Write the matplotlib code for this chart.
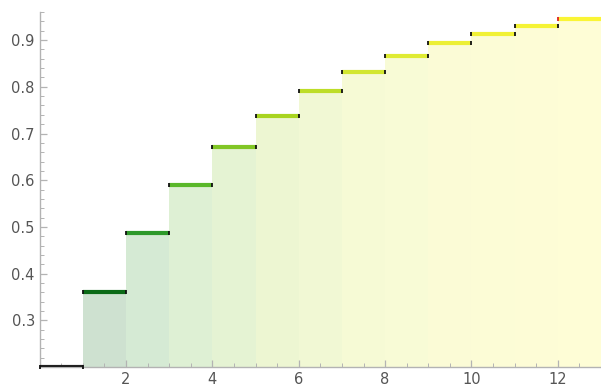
import numpy as np
import matplotlib.pyplot as plt
from matplotlib.colors import LinearSegmentedColormap
from matplotlib.ticker import MultipleLocator

# valores (degraus de x a x+1)
x = np.arange(0, 13)
valores = [0.200, 0.360, 0.488, 0.590, 0.672, 0.738, 0.790,
           0.832, 0.866, 0.893, 0.914, 0.931, 0.945]
base = 0.2

# cores: do preto ao verde escuro ate o amarelo
cmap = LinearSegmentedColormap.from_list(
    "degrau", [(0 / 12, "#202020"), (1 / 12, "#0b6b16"), (2 / 12, "#2e9a2a"),
               (3 / 12, "#5ab82a"), (5 / 12, "#a8d420"), (7 / 12, "#d2e630"),
               (9 / 12, "#ecef35"), (1.0, "#faf535")])
cores = [cmap(i / (len(x) - 1)) for i in range(len(x))]

fig = plt.figure(figsize=(6.01, 3.90), dpi=100)
ax = fig.add_axes([0.066, 0.059, 0.934, 0.910])

# preenchimento
ax.bar(x, np.array(valores) - base, bottom=base, width=1, align="edge",
       color=cores, alpha=0.2, linewidth=0, zorder=1)

# degraus
ax.hlines(valores, x, x + 1, colors=cores, linewidth=3, zorder=3)

# marcas nas pontas
ax.plot(x[:-1] + 1, valores[:-1], ls="none", marker="|", ms=3.5, mew=1.3,
        color="#111111", zorder=4, clip_on=False)
ax.plot(x[1:-1], valores[1:-1], ls="none", marker="|", ms=3.5, mew=1.3,
        color="#111111", zorder=4)
ax.plot([x[-1]], [valores[-1]], ls="none", marker="|", ms=3.5, mew=1.3,
        color="#e02020", zorder=4)
ax.plot([x[0]], [valores[0]], ls="none", marker="|", ms=3.5, mew=1.3,
        color="#111111", zorder=4, clip_on=False)

ax.set_xlim(0, 13)
ax.set_ylim(0.2, 0.96)

ax.xaxis.set_minor_locator(MultipleLocator(0.5))
ax.yaxis.set_minor_locator(MultipleLocator(0.02))

ax.set_xticks([2, 4, 6, 8, 10, 12])
ax.set_yticks([0.3, 0.4, 0.5, 0.6, 0.7, 0.8, 0.9])

for s in ["top", "right"]:
    ax.spines[s].set_visible(False)
for s in ["left", "bottom"]:
    ax.spines[s].set_color("#b3b3b3")
    ax.spines[s].set_linewidth(1)

ax.tick_params(which="both", direction="in", color="#b3b3b3",
               labelcolor="#555555", labelsize=10.5)
ax.tick_params(which="major", length=5, width=0.9)
ax.tick_params(which="minor", length=3, width=0.7)

plt.savefig("out.png", dpi=100)
